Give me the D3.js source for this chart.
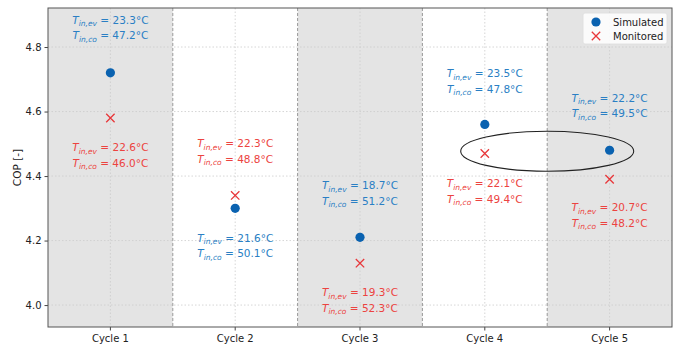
<!DOCTYPE html>
<html>
<head>
<meta charset="utf-8">
<script src="https://cdn.jsdelivr.net/npm/d3@7"></script>
<style>
  body { margin: 0; background: #fff; }
  text { font-family: "DejaVu Sans", sans-serif; }
</style>
</head>
<body>
<div class="chart"></div>
<script>
// data
var cycles = ["Cycle 1", "Cycle 2", "Cycle 3", "Cycle 4", "Cycle 5"];
var simulated = [4.72, 4.30, 4.21, 4.56, 4.48];
var monitored = [4.58, 4.34, 4.13, 4.47, 4.39];
var yTicks = [4.0, 4.2, 4.4, 4.6, 4.8];
var simEv = ["23.3", "21.6", "18.7", "23.5", "22.2"];
var simCo = ["47.2", "50.1", "51.2", "47.8", "49.5"];
var monEv = ["22.6", "22.3", "19.3", "22.1", "20.7"];
var monCo = ["46.0", "48.8", "52.3", "49.4", "48.2"];
// label anchors (COP value at middle of the first text line) for each cycle
var simLabelY = [4.884, 4.208, 4.372, 4.719, 4.642];
var monLabelY = [4.490, 4.502, 4.040, 4.378, 4.304];

var svgWidth = 678, svgHeight = 348;
var margin = { top: 8, right: 6, bottom: 21, left: 48 };
var width = svgWidth - margin.left - margin.right;
var height = svgHeight - margin.top - margin.bottom;

var blueMark = "#0a62b0", blueText = "#2a7fc4";
var redMark = "#e8373a", redText = "#ec4340";

var svg = d3.select(".chart").append("svg")
  .attr("width", svgWidth)
  .attr("height", svgHeight);

var chartGroup = svg.append("g")
  .attr("transform", `translate(${margin.left}, ${margin.top})`);

var xScale = d3.scaleBand().domain(cycles).range([0, width]).padding(0);
var yScale = d3.scaleLinear().domain([3.932, 4.921]).range([height, 0]);
var cx = d => xScale(d) + xScale.bandwidth() / 2;

// shaded bands for cycles 1,3,5
chartGroup.selectAll(".band")
  .data(cycles.filter((c, i) => i % 2 === 0))
  .enter().append("rect")
  .attr("x", d => xScale(d))
  .attr("y", 0)
  .attr("width", xScale.bandwidth())
  .attr("height", height)
  .attr("fill", "#e4e4e4");

// grid
chartGroup.selectAll(".hgrid").data(yTicks).enter().append("line")
  .attr("x1", 0).attr("x2", width)
  .attr("y1", d => yScale(d)).attr("y2", d => yScale(d))
  .attr("stroke", "#cccccc").attr("stroke-width", 0.8)
  .attr("stroke-dasharray", "1.5,2");
chartGroup.selectAll(".vgrid").data(cycles).enter().append("line")
  .attr("x1", cx).attr("x2", cx)
  .attr("y1", 0).attr("y2", height)
  .attr("stroke", "#cccccc").attr("stroke-width", 0.8)
  .attr("stroke-dasharray", "1.5,2");

// dashed separators between cycles
chartGroup.selectAll(".sep").data(cycles.slice(1)).enter().append("line")
  .attr("x1", d => xScale(d)).attr("x2", d => xScale(d))
  .attr("y1", 0).attr("y2", height)
  .attr("stroke", "#999").attr("stroke-width", 1)
  .attr("stroke-dasharray", "3,2");

// axes
var leftAxis = d3.axisLeft(yScale).tickValues(yTicks).tickFormat(d3.format(".1f")).tickSize(3.5).tickPadding(3);
var bottomAxis = d3.axisBottom(xScale).tickSize(3.5).tickPadding(4);

var yAxis = chartGroup.append("g").call(leftAxis);
var xAxis = chartGroup.append("g").attr("transform", `translate(0, ${height})`).call(bottomAxis);
[yAxis, xAxis].forEach(function(a) {
  a.select(".domain").remove();
  a.selectAll("line").attr("stroke", "#444");
  a.selectAll("text").attr("fill", "#222").style("font-size", "10px").style("font-family", "DejaVu Sans, sans-serif");
});

// frame
chartGroup.append("rect")
  .attr("width", width).attr("height", height)
  .attr("fill", "none").attr("stroke", "#555").attr("stroke-width", 1);

// y label
svg.append("text")
  .attr("transform", `translate(21, ${margin.top + height / 2}) rotate(-90)`)
  .attr("text-anchor", "middle")
  .style("font-size", "10.5px")
  .attr("fill", "#222")
  .text("COP [-]");

// ellipse around cycle 4 / cycle 5
var ellCx = xScale("Cycle 5");
var ellCy = yScale(4.477);
chartGroup.append("ellipse")
  .attr("cx", ellCx).attr("cy", ellCy)
  .attr("rx", 86.5).attr("ry", 20)
  .attr("fill", "none").attr("stroke", "#222").attr("stroke-width", 1.1);

// markers
chartGroup.selectAll(".sim").data(simulated).enter().append("circle")
  .attr("cx", (d, i) => cx(cycles[i]))
  .attr("cy", d => yScale(d))
  .attr("r", 4.6)
  .attr("fill", blueMark);

var xs = 4.2;
var monG = chartGroup.selectAll(".mon").data(monitored).enter().append("g")
  .attr("transform", (d, i) => `translate(${cx(cycles[i])}, ${yScale(d)})`);
monG.append("path")
  .attr("d", `M${-xs},${-xs}L${xs},${xs}M${-xs},${xs}L${xs},${-xs}`)
  .attr("stroke", redMark).attr("stroke-width", 1.3).attr("fill", "none");

// annotations
function annot(x, y, sub, val, color) {
  var t = chartGroup.append("text")
    .attr("x", x).attr("y", y)
    .attr("text-anchor", "middle")
    .attr("fill", color)
    .style("font-size", "10.5px");
  t.append("tspan").style("font-style", "italic").text("T");
  t.append("tspan").style("font-style", "italic").style("font-size", "7.5px").attr("dy", 2.5).text(sub);
  t.append("tspan").attr("dy", -2.5).text(" = " + val + "°C");
}

cycles.forEach(function(c, i) {
  var x = cx(c);
  var ys = yScale(simLabelY[i]) + 4;
  annot(x, ys, "in,ev", simEv[i], blueText);
  annot(x, ys + 15.5, "in,co", simCo[i], blueText);
  var ym = yScale(monLabelY[i]) + 4;
  annot(x, ym, "in,ev", monEv[i], redText);
  annot(x, ym + 15.5, "in,co", monCo[i], redText);
});

// legend
var legend = chartGroup.append("g").attr("transform", `translate(${width - 89}, 5)`);
legend.append("rect")
  .attr("width", 84).attr("height", 31).attr("rx", 2)
  .attr("fill", "#fff").attr("fill-opacity", 0.85)
  .attr("stroke", "#ddd").attr("stroke-width", 0.8);
legend.append("circle").attr("cx", 13).attr("cy", 9).attr("r", 4.6).attr("fill", blueMark);
legend.append("path")
  .attr("d", `M${13 - xs},${23 - xs}L${13 + xs},${23 + xs}M${13 - xs},${23 + xs}L${13 + xs},${23 - xs}`)
  .attr("stroke", redMark).attr("stroke-width", 1.3);
legend.append("text").attr("x", 30).attr("y", 12.5).style("font-size", "10px").attr("fill", "#222").text("Simulated");
legend.append("text").attr("x", 30).attr("y", 26.5).style("font-size", "10px").attr("fill", "#222").text("Monitored");
</script>
</body>
</html>
